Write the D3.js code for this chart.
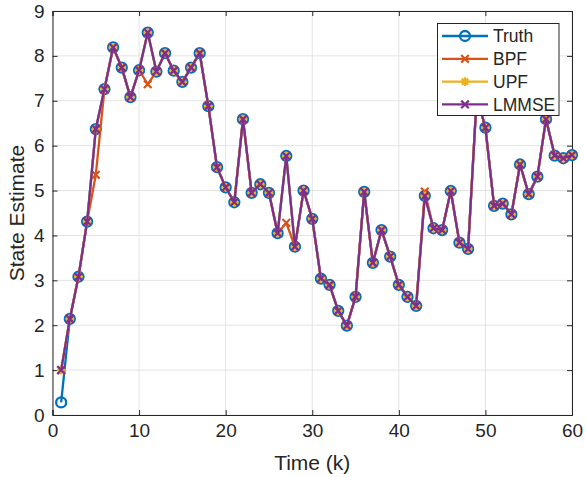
<!DOCTYPE html>
<html><head><meta charset="utf-8">
<script src="https://cdn.jsdelivr.net/npm/d3@7"></script>
<style>body{margin:0;background:#fff}svg{display:block}text{font-family:"Liberation Sans",Arial,sans-serif;fill:#262626}</style>
</head><body>
<svg id="c" width="586" height="477"></svg>
<script>
const timeK = [1,2,3,4,5,6,7,8,9,10,11,12,13,14,15,16,17,18,19,20,21,22,23,24,25,26,27,28,29,30,31,32,33,34,35,36,37,38,39,40,41,42,43,44,45,46,47,48,49,50,51,52,53,54,55,56,57,58,59,60];
const truth = [0.28,2.14,3.08,4.31,6.37,7.26,8.19,7.74,7.08,7.68,8.52,7.65,8.06,7.67,7.42,7.74,8.06,6.88,5.52,5.07,4.74,6.59,4.95,5.14,4.95,4.05,5.77,3.75,5.00,4.37,3.04,2.90,2.32,1.99,2.63,4.97,3.39,4.12,3.53,2.90,2.63,2.43,4.88,4.16,4.12,4.99,3.84,3.70,7.10,6.40,4.66,4.71,4.47,5.58,4.92,5.31,6.59,5.78,5.72,5.79];
const bpf   = [1.00,2.14,3.08,4.31,5.35,7.26,8.19,7.74,7.08,7.68,7.37,7.65,8.06,7.67,7.42,7.74,8.06,6.88,5.52,5.07,4.74,6.59,4.95,5.14,4.95,4.05,4.28,3.75,5.00,4.37,3.04,2.90,2.32,1.99,2.63,4.97,3.39,4.12,3.53,2.90,2.63,2.43,4.98,4.16,4.12,4.99,3.84,3.70,7.10,6.40,4.66,4.71,4.47,5.58,4.92,5.31,6.59,5.78,5.72,5.79];
const upf   = [1.00,2.14,3.08,4.31,6.37,7.26,8.19,7.74,7.08,7.68,8.52,7.65,8.06,7.67,7.42,7.74,8.06,6.88,5.52,5.07,4.74,6.59,4.95,5.14,4.95,4.05,5.77,3.75,5.00,4.37,3.04,2.90,2.32,1.99,2.63,4.97,3.39,4.12,3.53,2.90,2.63,2.43,4.88,4.16,4.12,4.99,3.84,3.70,7.10,6.40,4.66,4.71,4.47,5.58,4.92,5.31,6.59,5.78,5.72,5.79];
const lmmse = [1.00,2.14,3.08,4.31,6.37,7.26,8.19,7.74,7.08,7.68,8.52,7.65,8.06,7.67,7.42,7.74,8.06,6.88,5.52,5.07,4.74,6.59,4.95,5.14,4.95,4.05,5.77,3.75,5.00,4.37,3.04,2.90,2.32,1.99,2.63,4.97,3.39,4.12,3.53,2.90,2.63,2.43,4.88,4.16,4.12,4.99,3.84,3.70,7.10,6.40,4.66,4.71,4.47,5.58,4.92,5.31,6.59,5.78,5.72,5.79];
const seriesNames = ["Truth","BPF","UPF","LMMSE"];
const xTicks = [0,10,20,30,40,50,60];
const yTicks = [0,1,2,3,4,5,6,7,8,9];

const colors = ["#0072BD","#D95319","#EDB120","#7E2F8E"];
const markers = ["circle","x","star","x"];
const allSeries = [truth,bpf,upf,lmmse];

const svg = d3.select("#c");
const L=52.5, R=572, T=11, B=415;
const x = d3.scaleLinear().domain([0,60]).range([L,R]);
const y = d3.scaleLinear().domain([0,9]).range([B,T]);

// grid
const g = svg.append("g");
g.selectAll(".gx").data(xTicks).join("line").attr("x1",d=>x(d)).attr("x2",d=>x(d)).attr("y1",T).attr("y2",B).attr("stroke","#e3e3e3").attr("stroke-width",1);
g.selectAll(".gy").data(yTicks).join("line").attr("y1",d=>y(d)).attr("y2",d=>y(d)).attr("x1",L).attr("x2",R).attr("stroke","#e3e3e3").attr("stroke-width",1);

// axes
const ax = svg.append("g").attr("transform",`translate(0,${B})`).call(d3.axisBottom(x).tickValues(xTicks).tickSize(-5).tickPadding(9));
const axT = svg.append("g").attr("transform",`translate(0,${T})`).call(d3.axisTop(x).tickValues(xTicks).tickSize(-5).tickFormat(""));
const ay = svg.append("g").attr("transform",`translate(${L},0)`).call(d3.axisLeft(y).tickValues(yTicks).tickSize(-5).tickPadding(8));
const ayR = svg.append("g").attr("transform",`translate(${R},0)`).call(d3.axisRight(y).tickValues(yTicks).tickSize(-5).tickFormat(""));
[ax,axT,ay,ayR].forEach(a=>{a.selectAll("path").attr("stroke","#262626").attr("stroke-width",1);a.selectAll("line").attr("stroke","#262626");a.selectAll("text").attr("font-size",19).attr("font-family","'Liberation Sans',Arial,sans-serif").attr("fill","#262626");});

function drawMarker(sel, type, color){
  if(type==="circle"){
    sel.append("circle").attr("r",5).attr("fill","none").attr("stroke",color).attr("stroke-width",2.3);
  } else if(type==="x"){
    const s=3.8;
    sel.append("path").attr("d",`M${-s},${-s}L${s},${s}M${-s},${s}L${s},${-s}`).attr("stroke",color).attr("stroke-width",2.2).attr("fill","none");
  } else {
    const s=4.4, d=3.1;
    sel.append("path").attr("d",`M${-s},0L${s},0M0,${-s}L0,${s}M${-d},${-d}L${d},${d}M${-d},${d}L${d},${-d}`).attr("stroke",color).attr("stroke-width",2.2).attr("fill","none");
  }
}

const line = d3.line().x((d,i)=>x(timeK[i])).y(d=>y(d));
allSeries.forEach((ser,si)=>{
  const gg = svg.append("g");
  gg.append("path").datum(ser).attr("d",line).attr("fill","none").attr("stroke",colors[si]).attr("stroke-width",2.3).attr("stroke-linejoin","round");
  ser.forEach((v,i)=>{
    const m = gg.append("g").attr("transform",`translate(${x(timeK[i])},${y(v)})`);
    drawMarker(m, markers[si], colors[si]);
  });
});

// labels
svg.append("text").attr("x",(L+R)/2).attr("y",470).attr("text-anchor","middle").attr("font-size",21).text("Time (k)");
svg.append("text").attr("transform",`translate(24,${(T+B)/2}) rotate(-90)`).attr("text-anchor","middle").attr("font-size",21).text("State Estimate");

// legend
const lg = svg.append("g");
lg.append("rect").attr("x",437.5).attr("y",23.5).attr("width",121.5).attr("height",92).attr("fill","#fff").attr("stroke","#262626").attr("stroke-width",1);
seriesNames.forEach((n,i)=>{
  const yy = 36 + i*22.8;
  lg.append("line").attr("x1",442).attr("x2",488).attr("y1",yy).attr("y2",yy).attr("stroke",colors[i]).attr("stroke-width",2.3);
  const m = lg.append("g").attr("transform",`translate(465,${yy})`);
  drawMarker(m, markers[i], colors[i]);
  lg.append("text").attr("x",493).attr("y",yy).attr("dy","0.36em").attr("font-size",17.5).text(n);
});
</script>
</body></html>
